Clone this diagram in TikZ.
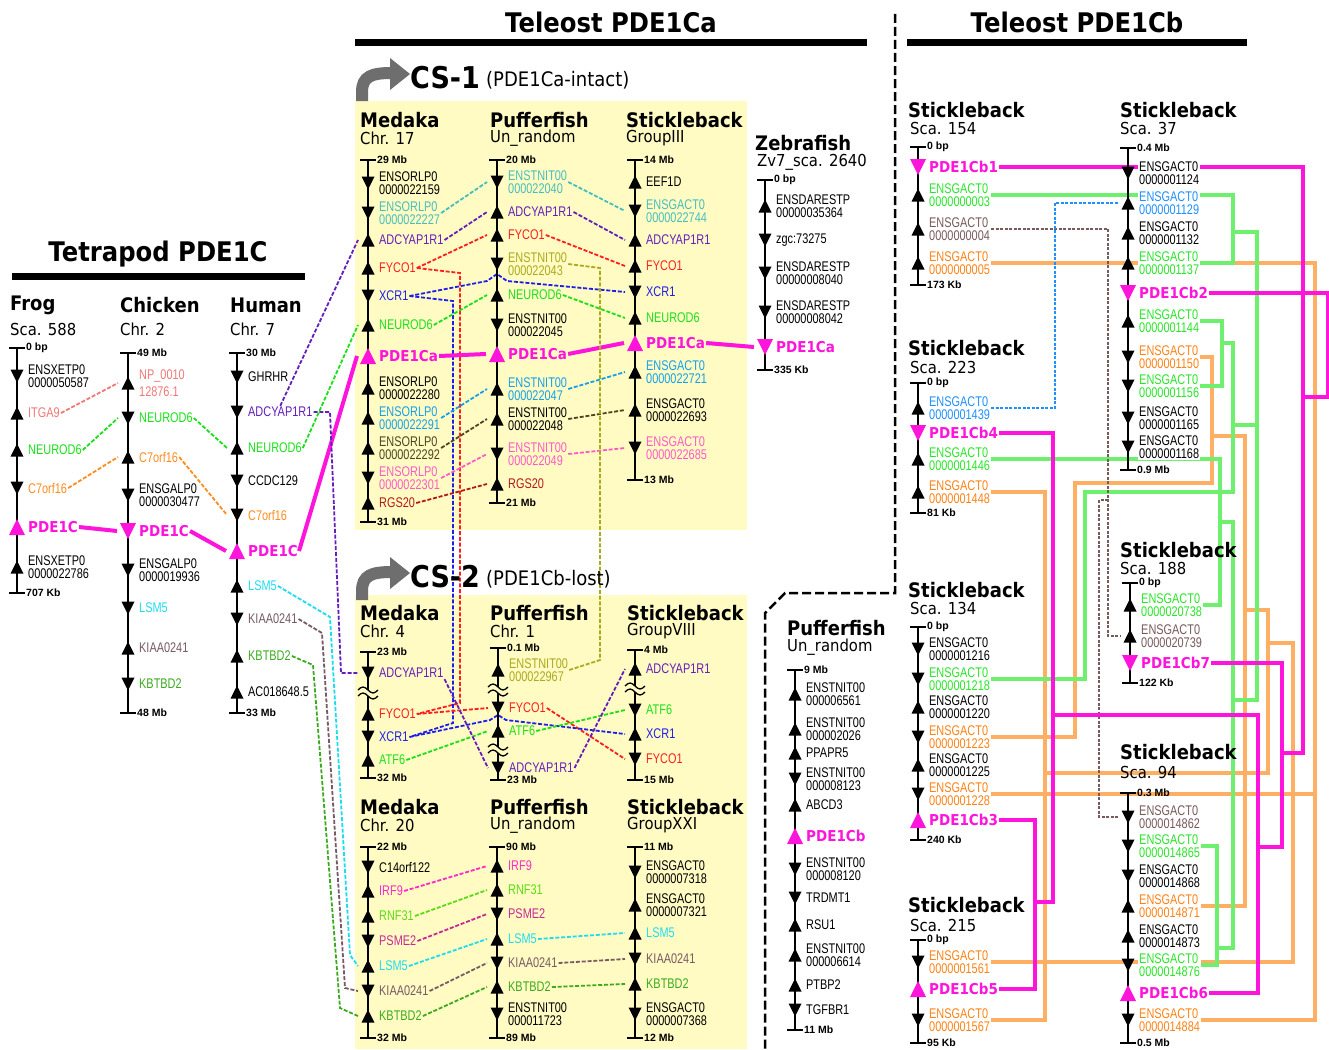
\documentclass[tikz,border=0pt]{standalone}
\usepackage{fontspec}
\setmainfont{Liberation Sans}
\newfontfamily\genefont[FakeStretch=0.78]{Liberation Sans}
\newfontfamily\headfont[FakeStretch=0.9]{DejaVu Sans}
\usepackage{tikz}
\pgfdeclarelayer{back}
\pgfdeclarelayer{links}
\pgfsetlayers{back,links,main}

\definecolor{cSal}{RGB}{240,120,120}
\definecolor{cGrn}{RGB}{25,225,25}
\definecolor{cOrg}{RGB}{255,140,30}
\definecolor{cPur}{RGB}{100,30,190}
\definecolor{cCyn}{RGB}{30,220,240}
\definecolor{cBrn}{RGB}{120,90,100}
\definecolor{cKbt}{RGB}{60,170,30}
\definecolor{cTeal}{RGB}{70,190,190}
\definecolor{cRed}{RGB}{255,30,30}
\definecolor{cBlu}{RGB}{30,30,235}
\definecolor{cSky}{RGB}{20,160,235}
\definecolor{cDol}{RGB}{75,70,30}
\definecolor{cPnk}{RGB}{255,90,200}
\definecolor{cDrd}{RGB}{180,25,25}
\definecolor{cOly}{RGB}{170,170,30}
\definecolor{cIrf}{RGB}{255,40,200}
\definecolor{cPsm}{RGB}{200,40,150}
\definecolor{cRnf}{RGB}{90,220,20}
\definecolor{cMag}{RGB}{255,20,220}
\definecolor{cYel}{RGB}{255,251,195}
\definecolor{cGry}{RGB}{110,110,110}
\definecolor{cLgr}{RGB}{110,240,110}
\definecolor{cLor}{RGB}{255,175,100}
\definecolor{cRgr}{RGB}{40,230,40}
\definecolor{cRor}{RGB}{255,130,20}
\definecolor{cRbl}{RGB}{30,144,255}
\definecolor{cRbr}{RGB}{120,90,90}

\tikzset{
  axisline/.style={line width=2.4pt},
  ticklab/.style={anchor=west, inner sep=1pt, font=\bfseries\fontsize{10.5}{11}\selectfont},
  glab/.style={anchor=west, inner sep=1pt, align=left, font=\genefont\fontsize{14}{13.5}\selectfont},
  plab/.style={anchor=west, inner sep=1pt, text=cMag, font=\headfont\bfseries\fontsize{15}{16}\selectfont},
  spname/.style={anchor=west, inner sep=0pt, font=\headfont\bfseries\fontsize{20}{22}\selectfont},
  chrname/.style={anchor=west, inner sep=0pt, font=\headfont\fontsize{16.5}{18}\selectfont},
  hdr/.style={inner sep=0pt, font=\headfont\bfseries\fontsize{27}{30}\selectfont},
  lk/.style={dash pattern=on 4pt off 1.8pt, line width=1.8pt},
  thk/.style={cMag, line width=4pt},
  rl/.style={line width=3.5pt},
  rd/.style={dash pattern=on 3pt off 1.5pt, line width=1.5pt},
}

% chromosome axis: x, top, bottom, top label, bottom label
\newcommand{\chrom}[5]{%
  \draw[axisline] (#1,#2) -- (#1,#3);
  \draw[axisline] (#1-8,#2) -- (#1+8,#2);
  \draw[axisline] (#1-8,#3) -- (#1+8,#3);
  \node[ticklab] at (#1+8,#2) {#4};
  \node[ticklab] at (#1+8,#3) {#5};}
% gene: name, x, y, u/d, colour, text
\newcommand{\gene}[6]{%
  \if#4u\fill (#2,#3) ++(-6.5,6.5) -- ++(13,0) -- ++(-6.5,-13) -- cycle;
  \else\fill (#2,#3) ++(-6.5,-6.5) -- ++(13,0) -- ++(-6.5,13) -- cycle;\fi
  \coordinate (#1-w) at (#2-10,#3);
  \node[glab,text=#5] (#1) at (#2+10,#3) {#6};}
% PDE1C gene: name, x, y, u/d, text
\newcommand{\pde}[5]{%
  \if#4u\fill[cMag] (#2,#3) ++(-8,8) -- ++(16,0) -- ++(-8,-16) -- cycle;
  \else\fill[cMag] (#2,#3) ++(-8,-8) -- ++(16,0) -- ++(-8,16) -- cycle;\fi
  \coordinate (#1-w) at (#2-11,#3);
  \node[plab] (#1) at (#2+10,#3) {#5};}
% break in axis
\newcommand{\axbreak}[2]{%
  \fill[cYel] (#1-9,#2-3) rectangle (#1+9,#2+3);
  \draw[line width=1.3pt] (#1-10,#2-3) sin (#1-5,#2-6) cos (#1,#2-3) sin (#1+5,#2) cos (#1+10,#2-3);
  \draw[line width=1.3pt] (#1-10,#2+3) sin (#1-5,#2) cos (#1,#2+3) sin (#1+5,#2+6) cos (#1+10,#2+3);}

\begin{document}
\begin{tikzpicture}[x=1pt,y=-1pt]
\useasboundingbox (0,0) rectangle (1329,1049);
\begin{pgfonlayer}{back}
  \fill[white] (0,0) rectangle (1329,1049);
  \fill[cYel] (355,101) rectangle (747,530);
  \fill[cYel] (355,595) rectangle (747,1049);
\end{pgfonlayer}

% headers
\node[hdr] (tetra) at (158,254) {Tetrapod PDE1C};
\draw[line width=7pt] (12,276) -- (305,276);
\node[hdr] (telA) at (611,22) {Teleost PDE1Ca};
\draw[line width=7pt] (355,43) -- (867,43);
\node[hdr] (telB) at (1077,22) {Teleost PDE1Cb};
\draw[line width=7pt] (907,43) -- (1247,43);
\draw[line width=2.5pt, dash pattern=on 9pt off 4pt] (895,14) -- (895,593) -- (785,593) -- (765,613) -- (765,1049);

% CS headers
\foreach \yy/\cs/\nt in {0/CS-1/(PDE1Ca-intact), 499/CS-2/(PDE1Cb-lost)} {
  \begin{scope}[yshift=-\yy pt]
    \draw[cGry, line width=12pt] (362,101) -- (362,92) .. controls (362,76) and (372,73) .. (392,73);
    \fill[cGry] (390,58) -- (410,74) -- (390,90) -- cycle;
    \node[anchor=west, inner sep=0pt, font=\headfont\bfseries\fontsize{30}{32}\selectfont] at (410,78) {\cs};
    \node[anchor=west, inner sep=0pt, font=\headfont\fontsize{20}{22}\selectfont] at (486,80) {\nt};
  \end{scope}}

% ---- Tetrapod ----
\node[spname] at (10,305) {Frog};
\node[chrname] at (10,329) {Sca. 588};
\chrom{17}{348}{593}{0 bp}{707 Kb}
\gene{fr1}{17}{376}{d}{black}{ENSXETP0\\0000050587}
\gene{fr2}{17}{413}{u}{cSal}{ITGA9}
\gene{fr3}{17}{450}{u}{cGrn}{NEUROD6}
\gene{fr4}{17}{488}{d}{cOrg}{C7orf16}
\pde{frP}{17}{527}{u}{PDE1C}
\gene{fr5}{17}{567}{u}{black}{ENSXETP0\\0000022786}

\node[spname] at (120,305) {Chicken};
\node[chrname] at (120,329) {Chr. 2};
\chrom{128}{353}{713}{49 Mb}{48 Mb}
\gene{ch1}{128}{383}{u}{cSal}{NP\_0010\\[3pt]12876.1}
\gene{ch2}{128}{418}{d}{cGrn}{NEUROD6}
\gene{ch3}{128}{457}{u}{cOrg}{C7orf16}
\gene{ch4}{128}{495}{d}{black}{ENSGALP0\\0000030477}
\pde{chP}{128}{531}{d}{PDE1C}
\gene{ch5}{128}{570}{d}{black}{ENSGALP0\\0000019936}
\gene{ch6}{128}{608}{d}{cCyn}{LSM5}
\gene{ch7}{128}{648}{u}{cBrn}{KIAA0241}
\gene{ch8}{128}{684}{d}{cKbt}{KBTBD2}

\node[spname] at (230,305) {Human};
\node[chrname] at (230,329) {Chr. 7};
\chrom{237}{353}{713}{30 Mb}{33 Mb}
\gene{hu1}{237}{377}{d}{black}{GHRHR}
\gene{hu2}{237}{412}{d}{cPur}{ADCYAP1R1}
\gene{hu3}{237}{448}{u}{cGrn}{NEUROD6}
\gene{hu4}{237}{481}{d}{black}{CCDC129}
\gene{hu5}{237}{515}{d}{cOrg}{C7orf16}
\pde{huP}{237}{551}{u}{PDE1C}
\gene{hu6}{237}{586}{u}{cCyn}{LSM5}
\gene{hu7}{237}{619}{d}{cBrn}{KIAA0241}
\gene{hu8}{237}{656}{u}{cKbt}{KBTBD2}
\gene{hu9}{237}{692}{u}{black}{AC018648.5}

% ---- CS-1 ----
\node[spname] at (360,120) {Medaka};
\node[chrname] at (360,138) {Chr. 17};
\chrom{368}{160}{522}{29 Mb}{31 Mb}
\gene{m1}{368}{183}{d}{black}{ENSORLP0\\0000022159}
\gene{m2}{368}{213}{d}{cTeal}{ENSORLP0\\0000022227}
\gene{m3}{368}{240}{u}{cPur}{ADCYAP1R1}
\gene{m4}{368}{268}{u}{cRed}{FYCO1}
\gene{m5}{368}{296}{d}{cBlu}{XCR1}
\gene{m6}{368}{325}{u}{cGrn}{NEUROD6}
\pde{mP}{368}{356}{u}{PDE1Ca}
\gene{m7}{368}{388}{u}{black}{ENSORLP0\\0000022280}
\gene{m8}{368}{418}{u}{cSky}{ENSORLP0\\0000022291}
\gene{m9}{368}{448}{u}{cDol}{ENSORLP0\\0000022292}
\gene{m10}{368}{478}{d}{cPnk}{ENSORLP0\\0000022301}
\gene{m11}{368}{503}{u}{cDrd}{RGS20}

\node[spname] at (490,120) {Pufferfish};
\node[chrname] at (490,138) {Un\_random};
\chrom{497}{160}{503}{20 Mb}{21 Mb}
\gene{p1}{497}{182}{d}{cTeal}{ENSTNIT00\\000022040}
\gene{p2}{497}{212}{u}{cPur}{ADCYAP1R1}
\gene{p3}{497}{235}{u}{cRed}{FYCO1}
\gene{p4}{497}{264}{d}{cOly}{ENSTNIT00\\000022043}
\gene{p5}{497}{295}{u}{cGrn}{NEUROD6}
\gene{p6}{497}{325}{d}{black}{ENSTNIT00\\000022045}
\pde{pP}{497}{354}{u}{PDE1Ca}
\gene{p7}{497}{389}{u}{cSky}{ENSTNIT00\\000022047}
\gene{p8}{497}{419}{u}{black}{ENSTNIT00\\000022048}
\gene{p9}{497}{454}{d}{cPnk}{ENSTNIT00\\000022049}
\gene{p10}{497}{484}{u}{cDrd}{RGS20}

\node[spname] at (626,120) {Stickleback};
\node[chrname] at (626,138) {GroupIII};
\chrom{635}{160}{480}{14 Mb}{13 Mb}
\gene{s1}{635}{182}{u}{black}{EEF1D}
\gene{s2}{635}{211}{d}{cTeal}{ENSGACT0\\0000022744}
\gene{s3}{635}{240}{u}{cPur}{ADCYAP1R1}
\gene{s4}{635}{266}{u}{cRed}{FYCO1}
\gene{s5}{635}{292}{d}{cBlu}{XCR1}
\gene{s6}{635}{318}{u}{cGrn}{NEUROD6}
\pde{sP}{635}{343}{u}{PDE1Ca}
\gene{s7}{635}{372}{u}{cSky}{ENSGACT0\\0000022721}
\gene{s8}{635}{410}{u}{black}{ENSGACT0\\0000022693}
\gene{s9}{635}{448}{d}{cPnk}{ENSGACT0\\0000022685}

\node[spname] at (755,143) {Zebrafish};
\node[chrname] at (757,162) {Zv7\_sca. 2640};
\chrom{765}{180}{370}{0 bp}{335 Kb}
\gene{za1}{765}{206}{u}{black}{ENSDARESTP\\00000035364}
\gene{za2}{765}{240}{d}{black}{zgc:73275}
\gene{za3}{765}{273}{d}{black}{ENSDARESTP\\00000008040}
\gene{za4}{765}{312}{d}{black}{ENSDARESTP\\00000008042}
\pde{zP}{765}{347}{d}{PDE1Ca}

% ---- CS-2 ----
\node[spname] at (360,613) {Medaka};
\node[chrname] at (360,631) {Chr. 4};
\chrom{368}{652}{778}{23 Mb}{32 Mb}
\axbreak{368}{693}
\gene{a1}{368}{673}{d}{cPur}{ADCYAP1R1}
\gene{a2}{368}{714}{u}{cRed}{FYCO1}
\gene{a3}{368}{737}{d}{cBlu}{XCR1}
\gene{a4}{368}{760}{u}{cGrn}{ATF6}

\node[spname] at (490,613) {Pufferfish};
\node[chrname] at (490,631) {Chr. 1};
\chrom{498}{648}{780}{0.1 Mb}{23 Mb}
\axbreak{498}{690}
\axbreak{498}{750}
\gene{b1}{498}{670}{u}{cOly}{ENSTNIT00\\000022967}
\gene{b2}{498}{708}{d}{cRed}{FYCO1}
\gene{b3}{498}{731}{u}{cGrn}{ATF6}
\gene{b4}{498}{768}{d}{cPur}{ADCYAP1R1}

\node[spname] at (627,613) {Stickleback};
\node[chrname] at (627,631) {GroupVIII};
\chrom{635}{650}{780}{4 Mb}{15 Mb}
\axbreak{635}{689}
\gene{c1}{635}{669}{u}{cPur}{ADCYAP1R1}
\gene{c2}{635}{710}{d}{cGrn}{ATF6}
\gene{c3}{635}{734}{u}{cBlu}{XCR1}
\gene{c4}{635}{759}{d}{cRed}{FYCO1}

\node[spname] at (360,807) {Medaka};
\node[chrname] at (360,825) {Chr. 20};
\chrom{368}{847}{1038}{22 Mb}{32 Mb}
\gene{d1}{368}{867}{d}{black}{C14orf122}
\gene{d2}{368}{891}{u}{cIrf}{IRF9}
\gene{d3}{368}{916}{u}{cRnf}{RNF31}
\gene{d4}{368}{941}{d}{cPsm}{PSME2}
\gene{d5}{368}{966}{u}{cCyn}{LSM5}
\gene{d6}{368}{991}{d}{cBrn}{KIAA0241}
\gene{d7}{368}{1016}{u}{cKbt}{KBTBD2}

\node[spname] at (490,807) {Pufferfish};
\node[chrname] at (490,825) {Un\_random};
\chrom{497}{847}{1038}{90 Mb}{89 Mb}
\gene{e1}{497}{866}{u}{cIrf}{IRF9}
\gene{e2}{497}{890}{u}{cRnf}{RNF31}
\gene{e3}{497}{914}{d}{cPsm}{PSME2}
\gene{e4}{497}{939}{u}{cCyn}{LSM5}
\gene{e5}{497}{963}{d}{cBrn}{KIAA0241}
\gene{e6}{497}{987}{u}{cKbt}{KBTBD2}
\gene{e7}{497}{1014}{d}{black}{ENSTNIT00\\000011723}

\node[spname] at (627,807) {Stickleback};
\node[chrname] at (627,825) {GroupXXI};
\chrom{635}{847}{1038}{11 Mb}{12 Mb}
\gene{f1}{635}{872}{d}{black}{ENSGACT0\\0000007318}
\gene{f2}{635}{905}{u}{black}{ENSGACT0\\0000007321}
\gene{f3}{635}{933}{u}{cCyn}{LSM5}
\gene{f4}{635}{959}{d}{cBrn}{KIAA0241}
\gene{f5}{635}{984}{u}{cKbt}{KBTBD2}
\gene{f6}{635}{1014}{d}{black}{ENSGACT0\\0000007368}

% ---- Teleost PDE1Cb ----
\node[spname] at (787,628) {Pufferfish};
\node[chrname] at (787,647) {Un\_random};
\chrom{795}{670}{1030}{9 Mb}{11 Mb}
\gene{q1}{795}{694}{u}{black}{ENSTNIT00\\000006561}
\gene{q2}{795}{729}{u}{black}{ENSTNIT00\\000002026}
\gene{q3}{795}{753}{u}{black}{PPAPR5}
\gene{q4}{795}{779}{d}{black}{ENSTNIT00\\000008123}
\gene{q5}{795}{805}{u}{black}{ABCD3}
\pde{qP}{795}{836}{u}{PDE1Cb}
\gene{q6}{795}{869}{d}{black}{ENSTNIT00\\000008120}
\gene{q7}{795}{898}{d}{black}{TRDMT1}
\gene{q8}{795}{925}{u}{black}{RSU1}
\gene{q9}{795}{955}{u}{black}{ENSTNIT00\\000006614}
\gene{q10}{795}{985}{u}{black}{PTBP2}
\gene{q11}{795}{1010}{d}{black}{TGFBR1}

\begin{scope}[glab/.append style={fill=white}, plab/.append style={fill=white}]
\node[spname] at (908,110) {Stickleback};
\node[chrname] at (910,128) {Sca. 154};
\chrom{918}{147}{285}{0 bp}{173 Kb}
\pde{t1P}{918}{167}{d}{PDE1Cb1}
\gene{t1}{918}{195}{u}{cRgr}{ENSGACT0\\0000000003}
\gene{t2}{918}{229}{u}{cRbr}{ENSGACT0\\0000000004}
\gene{t3}{918}{263}{u}{cRor}{ENSGACT0\\0000000005}

\node[spname] at (1120,110) {Stickleback};
\node[chrname] at (1120,128) {Sca. 37};
\chrom{1128}{148}{470}{0.4 Mb}{0.9 Mb}
\gene{u1}{1128}{173}{d}{black}{ENSGACT0\\0000001124}
\gene{u2}{1128}{203}{u}{cRbl}{ENSGACT0\\0000001129}
\gene{u3}{1128}{233}{u}{black}{ENSGACT0\\0000001132}
\gene{u4}{1128}{263}{u}{cRgr}{ENSGACT0\\0000001137}
\pde{u2P}{1128}{293}{d}{PDE1Cb2}
\gene{u5}{1128}{321}{u}{cRgr}{ENSGACT0\\0000001144}
\gene{u6}{1128}{357}{d}{cRor}{ENSGACT0\\0000001150}
\gene{u7}{1128}{386}{d}{cRgr}{ENSGACT0\\0000001156}
\gene{u8}{1128}{418}{d}{black}{ENSGACT0\\0000001165}
\gene{u9}{1128}{447}{d}{black}{ENSGACT0\\0000001168}

\node[spname] at (908,348) {Stickleback};
\node[chrname] at (910,367) {Sca. 223};
\chrom{918}{383}{513}{0 bp}{81 Kb}
\gene{v1}{918}{408}{u}{cRbl}{ENSGACT0\\0000001439}
\pde{v4P}{918}{433}{d}{PDE1Cb4}
\gene{v2}{918}{459}{u}{cRgr}{ENSGACT0\\0000001446}
\gene{v3}{918}{492}{u}{cRor}{ENSGACT0\\0000001448}

\node[spname] at (1120,550) {Stickleback};
\node[chrname] at (1120,568) {Sca. 188};
\chrom{1130}{583}{683}{0 bp}{122 Kb}
\gene{w1}{1130}{605}{u}{cRgr}{ENSGACT0\\0000020738}
\gene{w2}{1130}{636}{u}{cRbr}{ENSGACT0\\0000020739}
\pde{w7P}{1130}{663}{d}{PDE1Cb7}

\node[spname] at (908,590) {Stickleback};
\node[chrname] at (910,608) {Sca. 134};
\chrom{918}{627}{840}{0 bp}{240 Kb}
\gene{x1}{918}{649}{d}{black}{ENSGACT0\\0000001216}
\gene{x2}{918}{679}{d}{cRgr}{ENSGACT0\\0000001218}
\gene{x3}{918}{707}{u}{black}{ENSGACT0\\0000001220}
\gene{x4}{918}{737}{d}{cRor}{ENSGACT0\\0000001223}
\gene{x5}{918}{765}{u}{black}{ENSGACT0\\0000001225}
\gene{x6}{918}{794}{d}{cRor}{ENSGACT0\\0000001228}
\pde{x3P}{918}{820}{u}{PDE1Cb3}

\node[spname] at (908,905) {Stickleback};
\node[chrname] at (910,925) {Sca. 215};
\chrom{918}{940}{1043}{0 bp}{95 Kb}
\gene{y1}{918}{962}{d}{cRor}{ENSGACT0\\0000001561}
\pde{y5P}{918}{989}{u}{PDE1Cb5}
\gene{y2}{918}{1020}{d}{cRor}{ENSGACT0\\0000001567}

\node[spname] at (1120,752) {Stickleback};
\node[chrname] at (1120,772) {Sca. 94};
\chrom{1128}{793}{1043}{0.3 Mb}{0.5 Mb}
\gene{r1}{1128}{817}{d}{cRbr}{ENSGACT0\\0000014862}
\gene{r2}{1128}{846}{d}{cRgr}{ENSGACT0\\0000014865}
\gene{r3}{1128}{876}{d}{black}{ENSGACT0\\0000014868}
\gene{r4}{1128}{906}{u}{cRor}{ENSGACT0\\0000014871}
\gene{r5}{1128}{936}{u}{black}{ENSGACT0\\0000014873}
\gene{r6}{1128}{965}{d}{cRgr}{ENSGACT0\\0000014876}
\pde{r6P}{1128}{993}{u}{PDE1Cb6}
\gene{r7}{1128}{1020}{d}{cRor}{ENSGACT0\\0000014884}
\end{scope}

% ---- links ----
\begin{pgfonlayer}{links}
  % tetrapod
  \draw[lk,cSal] (fr2.east) -- (ch1-w);
  \draw[lk,cGrn] (fr3.east) -- (ch2-w);
  \draw[lk,cOrg] (fr4.east) -- (ch3-w);
  \draw[lk,cGrn] (ch2.east) -- (hu3-w);
  \draw[lk,cOrg] (ch3.east) -- (hu5-w);
  \draw[thk] (frP.east) -- (chP-w);
  \draw[thk] (chP.east) -- (huP-w);
  \draw[thk] (huP.east) -- (mP-w);
  \draw[lk,cPur] (hu2.north) -- (m3-w);
  \draw[lk,cPur] (hu2.east) -- (330,412) -- (341,673) -- (a1-w);
  \draw[lk,cGrn] (hu3.east) -- (m6-w);
  \draw[lk,cCyn] (hu6.east) -- (330,617) -- (350,955) -- (d5-w);
  \draw[lk,cBrn] (hu7.east) -- (322,633) -- (345,988) -- (d6-w);
  \draw[lk,cKbt] (hu8.east) -- (313,665) -- (340,1008) -- (d7-w);
  % CS-1
  \draw[lk,cTeal] (m2.east) -- (p1-w);
  \draw[lk,cTeal] (p1.east) -- (s2-w);
  \draw[lk,cPur] (m3.east) -- (p2-w);
  \draw[lk,cPur] (p2.east) -- (s3-w);
  \draw[lk,cRed] (m4.east) -- (p3-w);
  \draw[lk,cRed] (p3.east) -- (s4-w);
  \draw[lk,cRed] (m4.east) -- (460,273) -- (460,703) -- (a2.east);
  \draw[lk,cBlu] (m5.east) -- (487,281) -- (497,274) -- (507,281) -- (s5-w);
  \draw[lk,cBlu] (m5.east) -- (453,301) -- (453,723) -- (a3.east);
  \draw[lk,cGrn] (m6.east) -- (p5-w);
  \draw[lk,cGrn] (p5.east) -- (s6-w);
  \draw[thk] (mP.east) -- (pP-w);
  \draw[thk] (pP.east) -- (sP-w);
  \draw[thk] (sP.east) -- (zP-w);
  \draw[lk,cSky] (m8.east) -- (p7-w);
  \draw[lk,cSky] (p7.east) -- (s7-w);
  \draw[lk,cDol] (m9.east) -- (p8-w);
  \draw[lk,cDol] (p8.east) -- (s8-w);
  \draw[lk,cPnk] (m10.east) -- (p9-w);
  \draw[lk,cPnk] (p9.east) -- (s9-w);
  \draw[lk,cDrd] (m11.east) -- (p10-w);
  \draw[lk,cOly] (p4.east) -- (600,268) -- (600,660) -- (b1.east);
  % CS-2
  \draw[lk,cRed] (a2.east) -- (b2-w);
  \draw[lk,cRed] (b2.east) -- (c4-w);
  \draw[lk,cBlu] (a3.east) -- (490,720) -- (498,715) -- (506,720) -- (c3-w);
  \draw[lk,cGrn] (a4.east) -- (b3-w);
  \draw[lk,cGrn] (b3.east) -- (c2-w);
  \draw[lk,cPur] (a1.south east) -- (b4-w);
  \draw[lk,cPur] (b4.east) -- (c1-w);
  \draw[lk,cIrf] (d2.east) -- (e1-w);
  \draw[lk,cRnf] (d3.east) -- (e2-w);
  \draw[lk,cPsm] (d4.east) -- (e3-w);
  \draw[lk,cCyn] (d5.east) -- (e4-w);
  \draw[lk,cBrn] (d6.east) -- (e5-w);
  \draw[lk,cKbt] (d7.east) -- (e6-w);
  \draw[lk,cCyn] (e4.east) -- (f3-w);
  \draw[lk,cBrn] (e5.east) -- (f4-w);
  \draw[lk,cKbt] (e6.east) -- (f5-w);
  % Teleost PDE1Cb
  \draw[rl,cLor] (t3.east) -| (1315,1020) -- (r7.east);
  \draw[rl,cLor] (x6.east) -- (1315,794);
  \draw[rl,cLor] (u6.east) -| (1212,483) -| (1075,737) -- (x4.east);
  \draw[rl,cLor] (1212,436) -| (1245,906) -- (r4.east);
  \draw[rl,cLor] (1245,610) -| (1268,773) -- (1045,773);
  \draw[rl,cLor] (1268,643) -| (1293,962) -- (y1.east);
  \draw[rl,cLor] (v3.east) -| (1045,1020) -- (y2.east);
  \draw[rl,cLgr] (t1.east) -| (1233,263) -- (u4.east);
  \draw[rl,cLgr] (1233,232) -| (1257,700) -- (1233,700);
  \draw[rl,cLgr] (u5.east) -| (1222,386) -- (u7.east);
  \draw[rl,cLgr] (1222,343) -| (1233,492) -| (1085,679) -- (x2.east);
  \draw[rl,cLgr] (1233,425) -- (1257,425);
  \draw[rl,cLgr] (v2.east) -| (1220,605) -- (w1.east);
  \draw[rl,cLgr] (1220,522) -| (1233,948) -- (1217,948);
  \draw[rl,cLgr] (r2.east) -| (1217,965) -- (r6.east);
  \draw[rd,cRbr] (t2.east) -| (1108,636) -- (w2-w);
  \draw[rd,cRbr] (1108,500) -| (1099,817) -- (r1-w);
  \draw[rd,cRbl] (v1.east) -| (1055,203) -- (u2-w);
  \draw[rl,cMag] (t1P.east) -| (1303,753) -- (1282,753);
  \draw[rl,cMag] (u2P.east) -| (1328,397) -- (1303,397);
  \draw[rl,cMag] (w7P.east) -| (1282,847) -- (1258,847);
  \draw[rl,cMag] (v4P.east) -| (1053,902) -- (1035,902);
  \draw[rl,cMag] (x3P.east) -| (1035,989) -- (y5P.east);
  \draw[rl,cMag] (1053,715) -| (1258,993) -- (r6P.east);
\end{pgfonlayer}
\end{tikzpicture}
\end{document}
